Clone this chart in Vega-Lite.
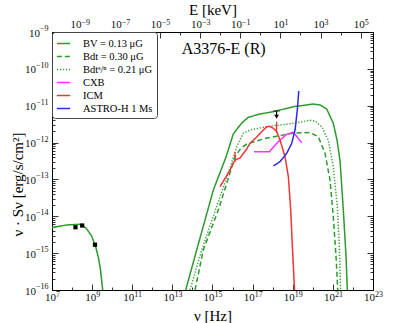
{
  "$schema": "https://vega.github.io/schema/vega-lite/v6.json",
  "width": 321,
  "height": 258,
  "autosize": {"type": "none"},
  "padding": {"left": 52, "top": 32, "right": 42, "bottom": 33},
  "background": "white",
  "config": {
    "view": {"stroke": null},
    "axis": {
      "domainColor": "black", "domainWidth": 1, "tickColor": "black", "tickWidth": 0.8,
      "labelFont": "Liberation Serif", "labelFontSize": 11, "labelColor": "#111",
      "titleFont": "Liberation Serif", "titleFontSize": 15, "titleFontWeight": "normal", "titleColor": "black",
      "grid": false, "labelOverlap": false, "labelFlush": false, "labelBound": false
    },
    "legend": {
      "orient": "top-left", "offset": 0, "padding": 4, "strokeColor": "#444", "fillColor": "white",
      "cornerRadius": 3, "labelFont": "Liberation Serif", "labelFontSize": 10.5, "labelColor": "black",
      "symbolType": "stroke", "symbolSize": 175, "symbolStrokeWidth": 1.6, "rowPadding": 0,
      "labelOffset": 12, "titlePadding": 0
    }
  },
  "datasets": {
    "curves": [
      {"series": "BV = 0.13 μG", "part": "sync", "nu": 1.0e7, "S": 4.97e-15},
      {"series": "BV = 0.13 μG", "part": "sync", "nu": 5.41e7, "S": 5.81e-15},
      {"series": "BV = 0.13 μG", "part": "sync", "nu": 2.49e8, "S": 6.07e-15},
      {"series": "BV = 0.13 μG", "part": "sync", "nu": 4.95e8, "S": 4.82e-15},
      {"series": "BV = 0.13 μG", "part": "sync", "nu": 9.53e8, "S": 2.92e-15},
      {"series": "BV = 0.13 μG", "part": "sync", "nu": 1.56e9, "S": 1.38e-15},
      {"series": "BV = 0.13 μG", "part": "sync", "nu": 2.08e9, "S": 7.40e-16},
      {"series": "BV = 0.13 μG", "part": "sync", "nu": 2.62e9, "S": 3.49e-16},
      {"series": "BV = 0.13 μG", "part": "sync", "nu": 3.37e9, "S": 1.0e-16},
      {"series": "BV = 0.13 μG", "part": "ic", "nu": 4.62e13, "S": 1.0e-16},
      {"series": "BV = 0.13 μG", "part": "ic", "nu": 1.63e14, "S": 1.22e-15},
      {"series": "BV = 0.13 μG", "part": "ic", "nu": 1.10e15, "S": 5.16e-14},
      {"series": "BV = 0.13 μG", "part": "ic", "nu": 4.72e15, "S": 4.06e-13},
      {"series": "BV = 0.13 μG", "part": "ic", "nu": 1.09e16, "S": 1.71e-12},
      {"series": "BV = 0.13 μG", "part": "ic", "nu": 2.86e16, "S": 3.40e-12},
      {"series": "BV = 0.13 μG", "part": "ic", "nu": 6.11e16, "S": 4.85e-12},
      {"series": "BV = 0.13 μG", "part": "ic", "nu": 2.34e17, "S": 5.96e-12},
      {"series": "BV = 0.13 μG", "part": "ic", "nu": 1.08e18, "S": 6.89e-12},
      {"series": "BV = 0.13 μG", "part": "ic", "nu": 1.07e19, "S": 9.40e-12},
      {"series": "BV = 0.13 μG", "part": "ic", "nu": 1.06e20, "S": 1.11e-11},
      {"series": "BV = 0.13 μG", "part": "ic", "nu": 2.29e20, "S": 1.05e-11},
      {"series": "BV = 0.13 μG", "part": "ic", "nu": 4.94e20, "S": 8.15e-12},
      {"series": "BV = 0.13 μG", "part": "ic", "nu": 1.05e21, "S": 3.33e-12},
      {"series": "BV = 0.13 μG", "part": "ic", "nu": 1.61e21, "S": 1.17e-12},
      {"series": "BV = 0.13 μG", "part": "ic", "nu": 2.28e21, "S": 3.16e-13},
      {"series": "BV = 0.13 μG", "part": "ic", "nu": 3.32e21, "S": 1.48e-14},
      {"series": "BV = 0.13 μG", "part": "ic", "nu": 4.53e21, "S": 8.02e-16},
      {"series": "BV = 0.13 μG", "part": "ic", "nu": 5.25e21, "S": 1.0e-16},
      {"series": "Bdt = 0.30 μG", "part": "ic", "nu": 1.35e14, "S": 1.0e-16},
      {"series": "Bdt = 0.30 μG", "part": "ic", "nu": 3.48e14, "S": 1.22e-15},
      {"series": "Bdt = 0.30 μG", "part": "ic", "nu": 1.95e15, "S": 1.48e-14},
      {"series": "Bdt = 0.30 μG", "part": "ic", "nu": 5.12e15, "S": 7.85e-14},
      {"series": "Bdt = 0.30 μG", "part": "ic", "nu": 1.33e16, "S": 4.14e-13},
      {"series": "Bdt = 0.30 μG", "part": "ic", "nu": 2.64e16, "S": 7.13e-13},
      {"series": "Bdt = 0.30 μG", "part": "ic", "nu": 5.08e16, "S": 9.14e-13},
      {"series": "Bdt = 0.30 μG", "part": "ic", "nu": 5.05e17, "S": 1.33e-12},
      {"series": "Bdt = 0.30 μG", "part": "ic", "nu": 1.07e19, "S": 1.79e-12},
      {"series": "Bdt = 0.30 μG", "part": "ic", "nu": 7.26e19, "S": 1.88e-12},
      {"series": "Bdt = 0.30 μG", "part": "ic", "nu": 1.88e20, "S": 1.44e-12},
      {"series": "Bdt = 0.30 μG", "part": "ic", "nu": 4.06e20, "S": 5.12e-13},
      {"series": "Bdt = 0.30 μG", "part": "ic", "nu": 7.21e20, "S": 9.66e-14},
      {"series": "Bdt = 0.30 μG", "part": "ic", "nu": 1.05e21, "S": 9.75e-15},
      {"series": "Bdt = 0.30 μG", "part": "ic", "nu": 1.44e21, "S": 8.02e-16},
      {"series": "Bdt = 0.30 μG", "part": "ic", "nu": 1.75e21, "S": 1.0e-16},
      {"series": "Bdtˢ/ⁿ = 0.21 μG", "part": "ic", "nu": 7.57e13, "S": 1.0e-16},
      {"series": "Bdtˢ/ⁿ = 0.21 μG", "part": "ic", "nu": 2.90e14, "S": 1.22e-15},
      {"series": "Bdtˢ/ⁿ = 0.21 μG", "part": "ic", "nu": 2.37e15, "S": 3.40e-14},
      {"series": "Bdtˢ/ⁿ = 0.21 μG", "part": "ic", "nu": 7.46e15, "S": 2.04e-13},
      {"series": "Bdtˢ/ⁿ = 0.21 μG", "part": "ic", "nu": 1.61e16, "S": 7.73e-13},
      {"series": "Bdtˢ/ⁿ = 0.21 μG", "part": "ic", "nu": 3.44e16, "S": 1.79e-12},
      {"series": "Bdtˢ/ⁿ = 0.21 μG", "part": "ic", "nu": 7.43e16, "S": 2.19e-12},
      {"series": "Bdtˢ/ⁿ = 0.21 μG", "part": "ic", "nu": 5.05e17, "S": 2.70e-12},
      {"series": "Bdtˢ/ⁿ = 0.21 μG", "part": "ic", "nu": 1.07e19, "S": 3.33e-12},
      {"series": "Bdtˢ/ⁿ = 0.21 μG", "part": "ic", "nu": 7.26e19, "S": 4.02e-12},
      {"series": "Bdtˢ/ⁿ = 0.21 μG", "part": "ic", "nu": 1.29e20, "S": 3.85e-12},
      {"series": "Bdtˢ/ⁿ = 0.21 μG", "part": "ic", "nu": 2.78e20, "S": 2.70e-12},
      {"series": "Bdtˢ/ⁿ = 0.21 μG", "part": "ic", "nu": 5.94e20, "S": 1.14e-12},
      {"series": "Bdtˢ/ⁿ = 0.21 μG", "part": "ic", "nu": 1.05e21, "S": 2.22e-13},
      {"series": "Bdtˢ/ⁿ = 0.21 μG", "part": "ic", "nu": 1.67e21, "S": 1.82e-14},
      {"series": "Bdtˢ/ⁿ = 0.21 μG", "part": "ic", "nu": 2.10e21, "S": 1.50e-15},
      {"series": "Bdtˢ/ⁿ = 0.21 μG", "part": "ic", "nu": 2.41e21, "S": 1.0e-16},
      {"series": "CXB", "part": "x", "nu": 1.17e17, "S": 5.66e-13},
      {"series": "CXB", "part": "x", "nu": 6.81e17, "S": 5.66e-13},
      {"series": "CXB", "part": "x", "nu": 1.91e18, "S": 1.06e-12},
      {"series": "CXB", "part": "x", "nu": 5.01e18, "S": 1.68e-12},
      {"series": "CXB", "part": "x", "nu": 1.07e19, "S": 1.90e-12},
      {"series": "CXB", "part": "x", "nu": 2.80e19, "S": 9.93e-13},
      {"series": "ICM", "part": "x", "nu": 2.37e15, "S": 6.35e-14},
      {"series": "ICM", "part": "x", "nu": 7.46e15, "S": 1.80e-13},
      {"series": "ICM", "part": "x", "nu": 1.33e16, "S": 3.37e-13},
      {"series": "ICM", "part": "x", "nu": 2.36e16, "S": 3.82e-13},
      {"series": "ICM", "part": "x", "nu": 5.08e16, "S": 6.70e-13},
      {"series": "ICM", "part": "x", "nu": 7.43e16, "S": 9.57e-13},
      {"series": "ICM", "part": "x", "nu": 1.60e17, "S": 1.42e-12},
      {"series": "ICM", "part": "x", "nu": 2.85e17, "S": 1.97e-12},
      {"series": "ICM", "part": "x", "nu": 5.05e17, "S": 2.70e-12},
      {"series": "ICM", "part": "x", "nu": 7.38e17, "S": 2.73e-12},
      {"series": "ICM", "part": "x", "nu": 1.08e18, "S": 2.44e-12},
      {"series": "ICM", "part": "x", "nu": 1.59e18, "S": 1.97e-12},
      {"series": "ICM", "part": "x", "nu": 2.32e18, "S": 1.17e-12},
      {"series": "ICM", "part": "x", "nu": 4.12e18, "S": 4.14e-13},
      {"series": "ICM", "part": "x", "nu": 6.03e18, "S": 1.19e-13},
      {"series": "ICM", "part": "x", "nu": 7.93e18, "S": 1.48e-14},
      {"series": "ICM", "part": "x", "nu": 9.75e18, "S": 1.22e-15},
      {"series": "ICM", "part": "x", "nu": 1.23e19, "S": 1.0e-16},
      {"series": "ASTRO-H 1 Ms", "part": "x", "nu": 1.08e18, "S": 2.32e-13},
      {"series": "ASTRO-H 1 Ms", "part": "x", "nu": 2.32e18, "S": 3.03e-13},
      {"series": "ASTRO-H 1 Ms", "part": "x", "nu": 5.01e18, "S": 5.12e-13},
      {"series": "ASTRO-H 1 Ms", "part": "x", "nu": 8.89e18, "S": 9.55e-13},
      {"series": "ASTRO-H 1 Ms", "part": "x", "nu": 1.30e19, "S": 2.19e-12},
      {"series": "ASTRO-H 1 Ms", "part": "x", "nu": 1.69e19, "S": 7.66e-12},
      {"series": "ASTRO-H 1 Ms", "part": "x", "nu": 1.99e19, "S": 2.51e-11}
    ],
    "radio": [
      {"nu": 1.48e8, "S": 5.04e-15},
      {"nu": 3.20e8, "S": 5.62e-15},
      {"nu": 1.39e9, "S": 1.69e-15}
    ],
    "icmerr": [
      {"nu": 1.33e16, "S": 5.6e-13, "S2": 3.0e-13},
      {"nu": 1.56e18, "S": 3.69e-12, "S2": 1.97e-12}
    ],
    "uplim": [
      {"nu": 1.56e18, "S": 7.19e-12, "S2": 5.0e-12}
    ],
    "label": [
      {"nu": 2.92e13, "S": 3.46e-10, "text": "A3376-E (R)"}
    ],
    "eaxis": [
      {"E": 4.13567e-11, "S": 1e-16},
      {"E": 4.13567e5, "S": 1e-9}
    ],
    "nuaxis": [
      {"nu": 1e7, "S": 1e-16},
      {"nu": 1e23, "S": 1e-9}
    ]
  },
  "layer": [
    {
      "encoding": {
        "x": {
          "field": "nu", "type": "quantitative",
          "scale": {"type": "log", "domain": [1e7, 1e23], "nice": false},
          "axis": {
            "orient": "bottom", "title": "ν [Hz]",
            "values": [1e7, 1e8, 1e9, 1e10, 1e11, 1e12, 1e13, 1e14, 1e15, 1e16, 1e17, 1e18, 1e19, 1e20, 1e21, 1e22, 1e23],
            "tickSize": {"condition": {"test": "round(log(datum.value)/LN10) % 2 != 0", "value": -6}, "value": -3},
            "labelExpr": "round(log(datum.value)/LN10) % 2 != 0 ? '10' : ''",
            "labelAlign": "right",
            "labelOffset": {"condition": {"test": "abs(round(log(datum.value)/LN10)) < 10", "value": 3.5}, "value": 1.5},
            "labelPadding": 16, "labelBaseline": "alphabetic",
            "titleY": 25, "titleBaseline": "middle"
          }
        },
        "y": {
          "field": "S", "type": "quantitative",
          "scale": {"type": "log", "domain": [1e-16, 1e-9], "nice": false},
          "axis": {
            "orient": "left", "title": "ν · Sν [erg/s/cm²]",
            "values": [1e-16, 2e-16, 3e-16, 4e-16, 5e-16, 6e-16, 7e-16, 8e-16, 9e-16, 1e-15, 2e-15, 3e-15, 4e-15, 5e-15, 6e-15, 7e-15, 8e-15, 9e-15, 1e-14, 2e-14, 3e-14, 4e-14, 5e-14, 6e-14, 7e-14, 8e-14, 9e-14, 1e-13, 2e-13, 3e-13, 4e-13, 5e-13, 6e-13, 7e-13, 8e-13, 9e-13, 1e-12, 2e-12, 3e-12, 4e-12, 5e-12, 6e-12, 7e-12, 8e-12, 9e-12, 1e-11, 2e-11, 3e-11, 4e-11, 5e-11, 6e-11, 7e-11, 8e-11, 9e-11, 1e-10, 2e-10, 3e-10, 4e-10, 5e-10, 6e-10, 7e-10, 8e-10, 9e-10, 1e-9],
            "tickSize": {"condition": {"test": "abs(log(datum.value)/LN10 - round(log(datum.value)/LN10)) < 0.01", "value": -6}, "value": -3},
            "labelExpr": "abs(log(datum.value)/LN10 - round(log(datum.value)/LN10)) < 0.01 ? '10' : ''",
            "labelPadding": {"condition": {"test": "round(log(datum.value)/LN10) == -9", "value": 18.5}, "value": 22.5},
            "labelOffset": 1, "labelBaseline": "middle",
            "titleX": -35, "titleY": 152, "titleBaseline": "middle", "titleAlign": "center", "titleAngle": 270
          }
        }
      },
      "layer": [
        {
          "data": {"name": "curves"},
          "mark": {"type": "line", "strokeWidth": 1.5, "clip": true},
          "encoding": {
            "color": {
              "field": "series", "type": "nominal", "title": null,
              "scale": {
                "domain": ["BV = 0.13 μG", "Bdt = 0.30 μG", "Bdtˢ/ⁿ = 0.21 μG", "CXB", "ICM", "ASTRO-H 1 Ms"],
                "range": ["#2c9a2c", "#2c9a2c", "#3aa53a", "#ff33ff", "#f03535", "#2b2bf0"]
              }
            },
            "strokeDash": {
              "field": "series", "type": "nominal", "title": null,
              "scale": {
                "domain": ["BV = 0.13 μG", "Bdt = 0.30 μG", "Bdtˢ/ⁿ = 0.21 μG", "CXB", "ICM", "ASTRO-H 1 Ms"],
                "range": [[1, 0], [5, 3], [1.3, 1.7], [1, 0], [1, 0], [1, 0]]
              }
            },
            "detail": {"field": "part", "type": "nominal"}
          }
        },
        {
          "data": {"name": "icmerr"},
          "mark": {"type": "rule", "color": "#f03535", "strokeWidth": 1.3},
          "encoding": {"y2": {"field": "S2"}}
        },
        {
          "data": {"name": "radio"},
          "mark": {"type": "point", "shape": "square", "filled": true, "color": "black", "size": 18, "opacity": 1}
        },
        {
          "data": {"name": "uplim"},
          "mark": {"type": "rule", "color": "black", "strokeWidth": 1.2},
          "encoding": {"y2": {"field": "S2"}}
        },
        {
          "data": {"name": "uplim"},
          "mark": {"type": "tick", "orient": "horizontal", "color": "black", "size": 7, "thickness": 1}
        },
        {
          "data": {"name": "uplim"},
          "mark": {"type": "point", "shape": "triangle-down", "filled": true, "color": "black", "size": 22, "opacity": 1},
          "encoding": {"y": {"field": "S2", "type": "quantitative"}}
        },
        {
          "data": {"name": "label"},
          "mark": {"type": "text", "align": "left", "baseline": "middle", "font": "Liberation Serif", "fontSize": 16, "color": "black"},
          "encoding": {"text": {"field": "text"}}
        }
      ]
    },
    {
      "data": {"name": "eaxis"},
      "mark": {"type": "point", "opacity": 0},
      "encoding": {
        "x": {
          "field": "E", "type": "quantitative",
          "scale": {"type": "log", "domain": [4.13567e-11, 4.13567e5], "nice": false},
          "axis": {
            "orient": "top", "title": "E [keV]",
            "values": [1e-10, 1e-9, 1e-8, 1e-7, 1e-6, 1e-5, 1e-4, 1e-3, 1e-2, 1e-1, 1, 10, 100, 1000, 1e4, 1e5],
            "tickSize": {"condition": {"test": "round(log(datum.value)/LN10) % 2 != 0", "value": -6}, "value": -3},
            "labelExpr": "round(log(datum.value)/LN10) % 2 != 0 ? '10' : ''",
            "labelAlign": "right",
            "labelOffset": {"condition": {"test": "round(log(datum.value)/LN10) < 0", "value": 1.25}, "value": 3.5},
            "labelPadding": 10.7, "labelBaseline": "alphabetic",
            "titleY": -23, "titleBaseline": "middle"
          }
        },
        "y": {
          "field": "S", "type": "quantitative",
          "scale": {"type": "log", "domain": [1e-16, 1e-9], "nice": false},
          "axis": {
            "orient": "right", "title": null, "labels": false,
            "values": [1e-16, 2e-16, 3e-16, 4e-16, 5e-16, 6e-16, 7e-16, 8e-16, 9e-16, 1e-15, 2e-15, 3e-15, 4e-15, 5e-15, 6e-15, 7e-15, 8e-15, 9e-15, 1e-14, 2e-14, 3e-14, 4e-14, 5e-14, 6e-14, 7e-14, 8e-14, 9e-14, 1e-13, 2e-13, 3e-13, 4e-13, 5e-13, 6e-13, 7e-13, 8e-13, 9e-13, 1e-12, 2e-12, 3e-12, 4e-12, 5e-12, 6e-12, 7e-12, 8e-12, 9e-12, 1e-11, 2e-11, 3e-11, 4e-11, 5e-11, 6e-11, 7e-11, 8e-11, 9e-11, 1e-10, 2e-10, 3e-10, 4e-10, 5e-10, 6e-10, 7e-10, 8e-10, 9e-10, 1e-9],
            "tickSize": {"condition": {"test": "abs(log(datum.value)/LN10 - round(log(datum.value)/LN10)) < 0.01", "value": -6}, "value": -3}
          }
        }
      }
    },
    {
      "data": {"name": "nuaxis"},
      "mark": {"type": "point", "opacity": 0},
      "encoding": {
        "x": {
          "field": "nu", "type": "quantitative",
          "scale": {"type": "log", "domain": [1e7, 1e23], "nice": false},
          "axis": {
            "orient": "bottom", "title": null, "domain": false, "ticks": false,
            "values": [1e7, 1e9, 1e11, 1e13, 1e15, 1e17, 1e19, 1e21, 1e23],
            "labelExpr": "(round(log(datum.value)/LN10) < 0 ? '−' : '') + abs(round(log(datum.value)/LN10))",
            "labelAlign": "left", "labelFontSize": 8,
            "labelOffset": {"condition": {"test": "abs(round(log(datum.value)/LN10)) < 10", "value": 3.5}, "value": 1.5},
            "labelPadding": 6, "labelBaseline": "alphabetic"
          }
        },
        "y": {
          "field": "S", "type": "quantitative",
          "scale": {"type": "log", "domain": [1e-16, 1e-9], "nice": false},
          "axis": {
            "orient": "left", "title": null, "domain": false, "ticks": false,
            "values": [1e-16, 1e-15, 1e-14, 1e-13, 1e-12, 1e-11, 1e-10, 1e-9],
            "labelExpr": "'−' + abs(round(log(datum.value)/LN10))",
            "labelAlign": "right", "labelFontSize": 8,
            "labelPadding": 4, "labelOffset": -3.5, "labelBaseline": "middle"
          }
        }
      }
    },
    {
      "data": {"name": "eaxis"},
      "mark": {"type": "point", "opacity": 0},
      "encoding": {
        "x": {
          "field": "E", "type": "quantitative",
          "scale": {"type": "log", "domain": [4.13567e-11, 4.13567e5], "nice": false},
          "axis": {
            "orient": "top", "title": null, "domain": false, "ticks": false,
            "values": [1e-9, 1e-7, 1e-5, 1e-3, 1e-1, 10, 1000, 1e5],
            "labelExpr": "(round(log(datum.value)/LN10) < 0 ? '−' : '') + abs(round(log(datum.value)/LN10))",
            "labelAlign": "left", "labelFontSize": 8,
            "labelOffset": {"condition": {"test": "round(log(datum.value)/LN10) < 0", "value": 1.25}, "value": 3.5},
            "labelPadding": 8, "labelBaseline": "alphabetic"
          }
        },
        "y": {
          "field": "S", "type": "quantitative",
          "scale": {"type": "log", "domain": [1e-16, 1e-9], "nice": false},
          "axis": null
        }
      }
    }
  ],
  "resolve": {"scale": {"x": "independent", "y": "independent"}}
}
